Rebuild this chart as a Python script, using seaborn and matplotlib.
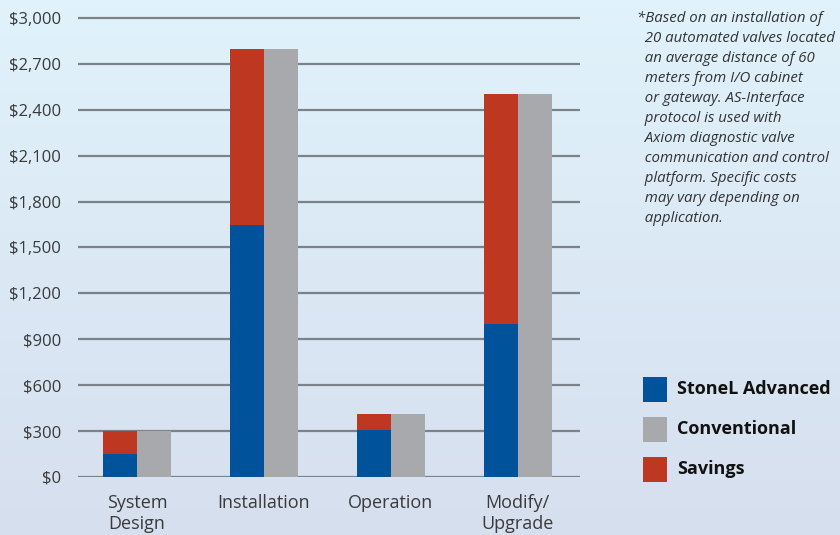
import numpy as np
import pandas as pd
import seaborn as sns
from matplotlib import pyplot as plt
from matplotlib.patches import Rectangle

# values (US$)
categories = ["System\nDesign", "Installation", "Operation", "Modify/\nUpgrade"]
stonel = [150, 1650, 310, 1000]
savings = [150, 1150, 100, 1500]
conventional = [300, 2800, 410, 2500]
yticks = [0, 300, 600, 900, 1200, 1500, 1800, 2100, 2400, 2700, 3000]
ytick_labels = ["$0", "$300", "$600", "$900", "$1,200", "$1,500", "$1,800",
                "$2,100", "$2,400", "$2,700", "$3,000"]

blue = "#00529b"
red = "#be3720"
gray = "#a7a9ac"

note = ("*Based on an installation of\n"
        "  20 automated valves located\n"
        "  an average distance of 60\n"
        "  meters from I/O cabinet\n"
        "  or gateway. AS-Interface\n"
        "  protocol is used with\n"
        "  Axiom diagnostic valve\n"
        "  communication and control\n"
        "  platform. Specific costs\n"
        "  may vary depending on\n"
        "  application.")

sns.set_theme(style="white")
plt.rcParams["font.family"] = ["Open Sans", "DejaVu Sans"]

fig = plt.figure(figsize=(8.4, 5.35), dpi=100)

# soft blue background gradient
bg = fig.add_axes([0, 0, 1, 1], zorder=-10)
top = np.array([0.88, 0.95, 0.985])
bottom = np.array([0.84, 0.875, 0.935])
t = np.linspace(0, 1, 200)[:, None, None]
grad = top * (1 - t) + bottom * t
grad = np.repeat(grad, 2, axis=1)
bg.imshow(grad, aspect="auto", extent=[0, 1, 0, 1])
bg.set_xlim(0, 1)
bg.set_ylim(0, 1)
bg.axis("off")

ax = fig.add_axes([78 / 840, 1 - 477 / 535, 502 / 840, 459 / 535 + 0.004])
ax.patch.set_alpha(0)

totals = pd.DataFrame({
    "category": categories * 2,
    "side": ["left"] * 4 + ["right"] * 4,
    "value": [s + v for s, v in zip(stonel, savings)] + conventional,
})
lower = pd.DataFrame({
    "category": categories * 2,
    "side": ["left"] * 4 + ["right"] * 4,
    "value": stonel + [0] * 4,
})

for y in yticks:
    ax.axhline(y, color="#7d8288", lw=1.6, zorder=1)

sns.barplot(data=totals, x="category", y="value", hue="side",
            palette={"left": red, "right": gray}, width=0.535,
            linewidth=0, saturation=1, legend=False, ax=ax, zorder=3)
sns.barplot(data=lower, x="category", y="value", hue="side",
            palette={"left": blue, "right": (0, 0, 0, 0)}, width=0.535,
            linewidth=0, saturation=1, legend=False, ax=ax, zorder=4)

ax.set_xlim(-0.465, 3.49)
ax.set_ylim(0, 3000 * 1.0045)
ax.set_yticks(yticks)
ax.set_yticklabels(ytick_labels)
ax.set_xlabel("")
ax.set_ylabel("")
ax.tick_params(axis="y", length=0, pad=12, labelsize=12, labelcolor="#3a3a3a")
ax.tick_params(axis="x", length=0, pad=12, labelsize=13, labelcolor="#3a3a3a")
for lab in ax.get_xticklabels():
    lab.set_linespacing(1.25)
sns.despine(ax=ax, left=True, bottom=True)

fig.text(637 / 840, 1 - 11 / 535, note, ha="left", va="top", fontsize=10.8,
         style="italic", color="#333333", linespacing=1.45)

legend_items = [("StoneL Advanced", blue), ("Conventional", gray), ("Savings", red)]
for i, (name, col) in enumerate(legend_items):
    y0 = 377 + i * 40
    fig.add_artist(Rectangle((643 / 840, 1 - (y0 + 25) / 535), 24 / 840, 25 / 535,
                             transform=fig.transFigure, color=col, lw=0))
    fig.text(677 / 840, 1 - (y0 + 12.5) / 535, name, ha="left", va="center",
             fontsize=13, fontweight="bold", color="#111111")

plt.savefig("out.png", dpi=100)
